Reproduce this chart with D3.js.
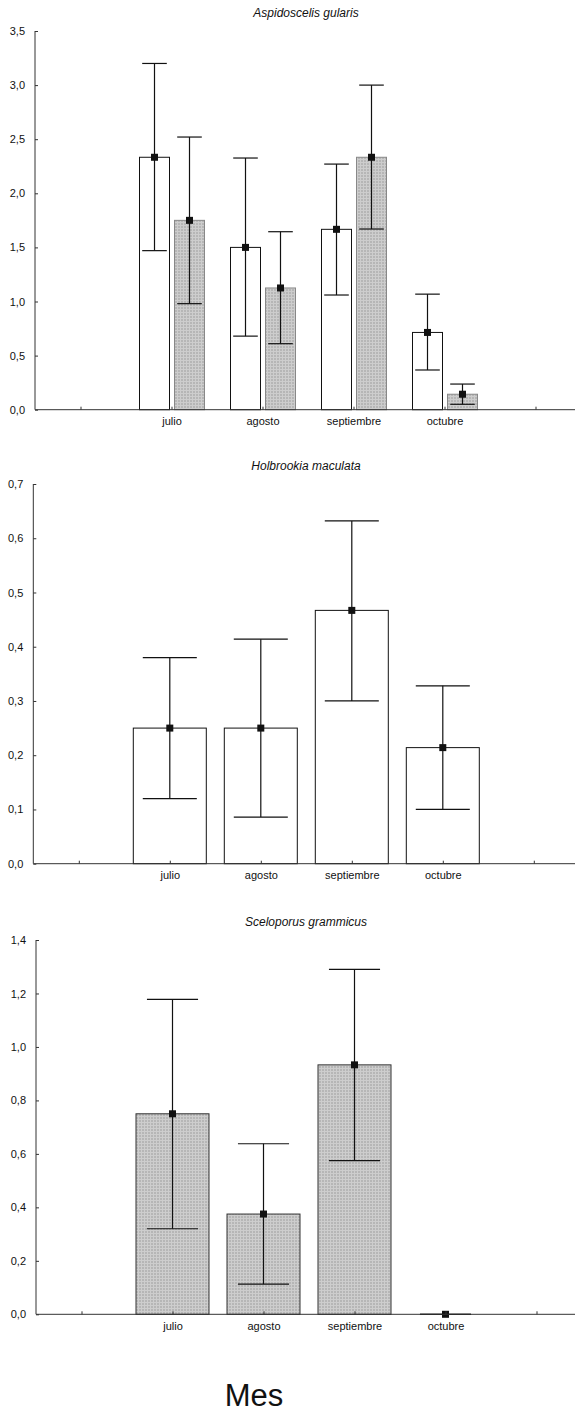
<!DOCTYPE html>
<html>
<head>
<meta charset="utf-8">
<script src="https://cdn.jsdelivr.net/npm/d3@7"></script>
<style>
  body { margin: 0; background: #fff; }
  svg { display: block; font-family: "Liberation Sans", Arial, sans-serif; }
  .axis path, .axis line { stroke: #333; }
  .axis text { fill: #111; font-size: 11px; }
</style>
</head>
<body>
<svg id="chart" width="575" height="1413"></svg>
<script>
// month slots on the x axis (empty slots at both ends)
var months = ["", "julio", "agosto", "septiembre", "octubre", ""];

// Aspidoscelis gularis - white series
var aspWhiteMean = [2.333, 1.5, 1.667, 0.714];
var aspWhiteLo   = [1.47, 0.68, 1.06, 0.367];
var aspWhiteHi   = [3.2, 2.326, 2.27, 1.068];
// Aspidoscelis gularis - grey series
var aspGreyMean = [1.75, 1.125, 2.333, 0.143];
var aspGreyLo   = [0.98, 0.61, 1.67, 0.05];
var aspGreyHi   = [2.52, 1.645, 3.0, 0.237];

// Holbrookia maculata
var holMean = [0.25, 0.25, 0.467, 0.214];
var holLo   = [0.12, 0.086, 0.30, 0.10];
var holHi   = [0.38, 0.414, 0.632, 0.328];

// Sceloporus grammicus
var scMean = [0.75, 0.375, 0.933, 0];
var scLo   = [0.32, 0.113, 0.575, 0];
var scHi   = [1.178, 0.638, 1.29, 0];

var aspTicks = d3.range(0, 3.51, 0.5);
var holTicks = d3.range(0, 0.71, 0.1);
var scTicks  = d3.range(0, 1.41, 0.2);

var svg = d3.select("#chart");

// fine grid fill used by the grey bars
var defs = svg.append("defs");
var pat = defs.append("pattern")
    .attr("id", "grid")
    .attr("width", 3).attr("height", 3)
    .attr("patternUnits", "userSpaceOnUse");
pat.append("rect").attr("width", 3).attr("height", 3).attr("fill", "#b6b6b6");
pat.append("rect").attr("width", 3).attr("height", 1).attr("fill", "#cdcdcd");
pat.append("rect").attr("width", 1).attr("height", 3).attr("fill", "#cdcdcd");

var commaFmt = function(d) { return d3.format(".1f")(d).replace(".", ","); };

function drawPanel(p) {
    var g = svg.append("g");
    var step = 91;
    var x = d3.scaleLinear()
              .domain([-0.5, 5.5])
              .range([p.x0, p.x0 + 6 * step]);
    var y = d3.scaleLinear()
              .domain([0, p.ymax])
              .range([p.yBase, p.yTop]);

    // title
    g.append("text")
     .attr("x", 306).attr("y", p.yTop - 14)
     .attr("text-anchor", "middle")
     .style("font-style", "italic")
     .style("font-size", "12px")
     .attr("fill", "#111")
     .text(p.title);

    // y axis
    var yaxis = d3.axisLeft(y)
                  .tickValues(p.ticks)
                  .tickSize(-3)
                  .tickPadding(10)
                  .tickFormat(commaFmt);
    g.append("g")
     .attr("class", "axis")
     .attr("transform", "translate(" + p.x0 + ",0)")
     .call(yaxis)
     .call(s => s.select(".domain").attr("d", "M0," + p.yTop + "V" + p.yBase));

    // bars + error bars per series
    p.series.forEach(function(s) {
        var idx = d3.range(s.mean.length);
        var barG = g.append("g");
        barG.selectAll("rect")
            .data(idx)
            .join("rect")
            .attr("x", i => x(i + 1) + s.off)
            .attr("width", s.w)
            .attr("y", i => y(s.mean[i]))
            .attr("height", i => y(0) - y(s.mean[i]))
            .attr("fill", s.fill)
            .attr("stroke", s.stroke)
            .attr("stroke-width", 1)
            .attr("display", i => s.mean[i] > 0 ? null : "none");

        var cx = i => x(i + 1) + s.off + s.w / 2;
        var cap = s.w * s.cap / 2;
        var eg = barG.append("g").attr("stroke", "#111").attr("stroke-width", 1.2);
        eg.selectAll(".v").data(idx).join("line")
          .attr("x1", cx).attr("x2", cx)
          .attr("y1", i => y(s.lo[i])).attr("y2", i => y(s.hi[i]));
        eg.selectAll(".hi").data(idx).join("line")
          .attr("x1", i => cx(i) - cap).attr("x2", i => cx(i) + cap)
          .attr("y1", i => y(s.hi[i])).attr("y2", i => y(s.hi[i]));
        eg.selectAll(".lo").data(idx).join("line")
          .attr("x1", i => cx(i) - cap).attr("x2", i => cx(i) + cap)
          .attr("y1", i => y(s.lo[i])).attr("y2", i => y(s.lo[i]));
        barG.selectAll(".mk").data(idx).join("rect")
          .attr("x", i => cx(i) - 3.5).attr("y", i => y(s.mean[i]) - 3.5)
          .attr("width", 7).attr("height", 7)
          .attr("fill", "#111");
    });

    // x axis
    var xaxis = d3.axisBottom(x)
                  .tickValues(d3.range(months.length))
                  .tickSize(-3)
                  .tickPadding(8)
                  .tickFormat(i => months[i]);
    g.append("g")
     .attr("class", "axis")
     .attr("transform", "translate(0," + p.yBase + ")")
     .call(xaxis)
     .call(s => s.select(".domain").attr("d", "M" + p.x0 + ",0H575"));
}

drawPanel({
    title: "Aspidoscelis gularis",
    x0: 35, yTop: 31, yBase: 409.7, ymax: 3.5, ticks: aspTicks,
    series: [
        {mean: aspWhiteMean, lo: aspWhiteLo, hi: aspWhiteHi, off: -32, w: 30, cap: 0.82,
         fill: "#fff", stroke: "#111"},
        {mean: aspGreyMean, lo: aspGreyLo, hi: aspGreyHi, off: 3, w: 30, cap: 0.82,
         fill: "url(#grid)", stroke: "#888"}
    ]
});

drawPanel({
    title: "Holbrookia maculata",
    x0: 33.3, yTop: 484, yBase: 863.7, ymax: 0.7, ticks: holTicks,
    series: [
        {mean: holMean, lo: holLo, hi: holHi, off: -36.5, w: 73, cap: 0.74,
         fill: "#fff", stroke: "#111"}
    ]
});

drawPanel({
    title: "Sceloporus grammicus",
    x0: 36, yTop: 940, yBase: 1314.3, ymax: 1.4, ticks: scTicks,
    series: [
        {mean: scMean, lo: scLo, hi: scHi, off: -36.5, w: 73, cap: 0.7,
         fill: "url(#grid)", stroke: "#333"}
    ]
});

// shared x axis label
svg.append("text")
   .attr("x", 254).attr("y", 1406)
   .attr("text-anchor", "middle")
   .style("font-size", "31px")
   .attr("fill", "#111")
   .text("Mes");
</script>
</body>
</html>
